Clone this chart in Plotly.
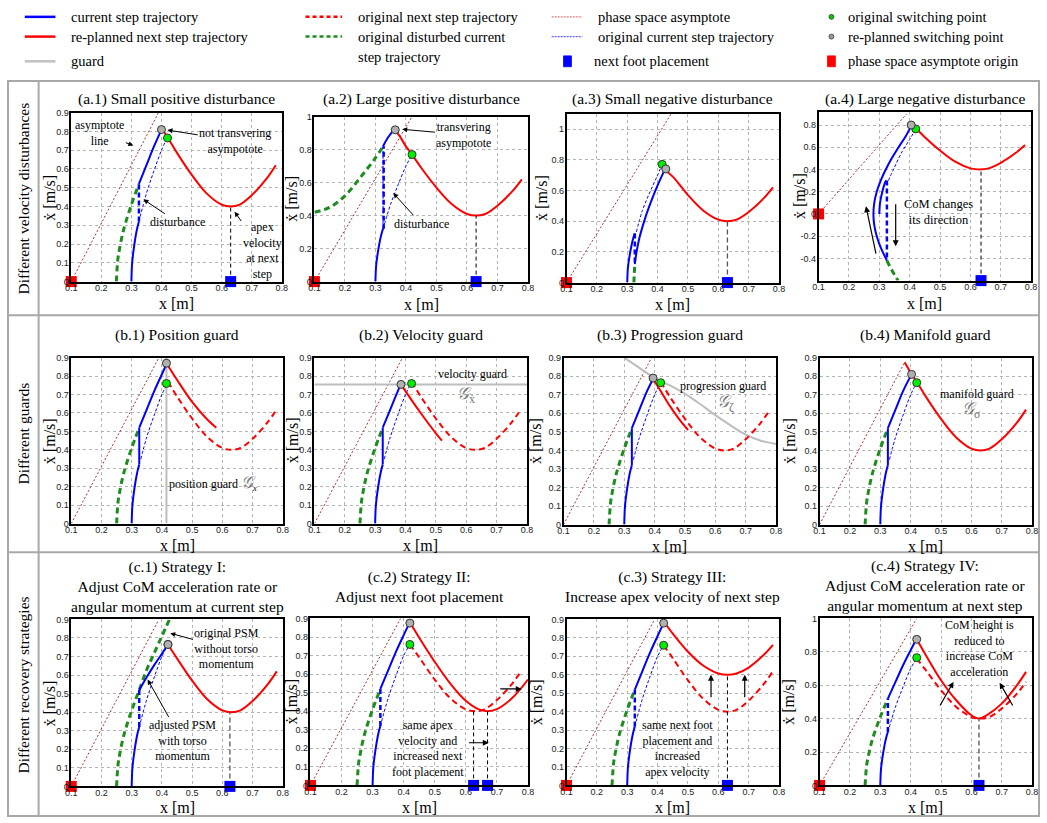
import plotly.graph_objects as go

W, H = 1047, 823

# ---------------- data ----------------
x_tick_vals = [0.1, 0.2, 0.3, 0.4, 0.5, 0.6, 0.7, 0.8]
x_tick_text = ["0.1", "0.2", "0.3", "0.4", "0.5", "0.6", "0.7", "0.8"]
y_tick_09 = [0, 0.1, 0.2, 0.3, 0.4, 0.5, 0.6, 0.7, 0.8, 0.9]
y_text_09 = ["0", "0.1", "0.2", "0.3", "0.4", "0.5", "0.6", "0.7", "0.8", "0.9"]
y_tick_10 = [0, 0.2, 0.4, 0.6, 0.8, 1.0]
y_text_10 = ["0", "0.2", "0.4", "0.6", "0.8", "1"]
y_tick_a4 = [-0.4, -0.2, 0, 0.2, 0.4, 0.6, 0.8]
y_text_a4 = ["-0.4", "-0.2", "0", "0.2", "0.4", "0.6", "0.8"]

panel_keys = ["a1", "a2", "a3", "a4", "b1", "b2", "b3", "b4", "c1", "c2", "c3", "c4"]
panel_titles = [
    "(a.1) Small positive disturbance", "(a.2) Large positive disturbance",
    "(a.3) Small negative disturbance", "(a.4) Large negative disturbance",
    "(b.1) Position guard", "(b.2) Velocity guard",
    "(b.3) Progression guard", "(b.4) Manifold guard",
    "(c.1) Strategy I:<br>Adjust CoM acceleration rate or<br>angular momentum at current step",
    "(c.2) Strategy II:<br>Adjust next foot placement",
    "(c.3) Strategy III:<br>Increase apex velocity of next step",
    "(c.4) Strategy IV:<br>Adjust CoM acceleration rate or<br>angular momentum at next step",
]
row_labels = ["Different velocity disturbances", "Different guards", "Different recovery strategies"]
y_ranges = [[0, 0.9], [0, 1.0], [0, 1.1], [-0.6, 0.92],
            [0, 0.9], [0, 0.9], [0, 0.9], [0, 0.9],
            [0, 0.9], [0, 0.9], [0, 0.9], [0, 1.0]]

# phase-space asymptote (from origin at x=0.1)
asym_x_09 = [0.1, 0.39]
asym_y_09 = [0.0, 0.9]
asym_x_a2 = [0.1, 0.42]
asym_y_a2 = [0.0, 1.0]
asym_x_a3 = [0.1, 0.445]
asym_y_a3 = [0.0, 1.1]
asym_x_b4 = [0.1, 0.38]
asym_y_b4 = [0.0, 0.875]
asym_x_c4 = [0.1, 0.42]
asym_y_c4 = [0.0, 1.0]

# current step before disturbance
pre_x = [0.300, 0.302, 0.305, 0.310, 0.315, 0.320, 0.325]
pre_y = [0.00, 0.09, 0.14, 0.20, 0.25, 0.29, 0.32]
# original (undisturbed) current step continuation
orig_x = [0.325, 0.35, 0.375, 0.40, 0.42]
orig_y = [0.32, 0.47, 0.59, 0.70, 0.77]
# original disturbed current step trajectory
green_x = [0.250, 0.255, 0.260, 0.270, 0.280, 0.300, 0.325]
green_y = [0.00, 0.12, 0.17, 0.25, 0.31, 0.41, 0.52]
# disturbance jump (small positive)
jump_x = [0.325, 0.325]
jump_y = [0.32, 0.52]
# current step after small positive disturbance
post_x = [0.325, 0.35, 0.375, 0.40, 0.42]
post_y = [0.52, 0.62, 0.72, 0.81, 0.88]
post_b1_x = [0.325, 0.35, 0.375, 0.40, 0.415]
post_b1_y = [0.52, 0.62, 0.72, 0.81, 0.865]
post_b2_x = [0.325, 0.35, 0.375, 0.385]
post_b2_y = [0.52, 0.62, 0.72, 0.755]
post_b3_x = [0.325, 0.35, 0.375, 0.395]
post_b3_y = [0.52, 0.62, 0.72, 0.785]
post_b4_x = [0.325, 0.35, 0.375, 0.403]
post_b4_y = [0.52, 0.62, 0.72, 0.81]
# original next step trajectory (foot ~0.63, apex 0.40)
next_x = [0.36, 0.38, 0.40, 0.42, 0.45, 0.50, 0.55, 0.60, 0.63, 0.66, 0.70, 0.75, 0.78]
next_y = [0.93, 0.88, 0.82, 0.77, 0.69, 0.57, 0.47, 0.41, 0.40, 0.41, 0.46, 0.55, 0.62]

# (a.2) large positive disturbance
a2_jump_y = [0.32, 0.82]
a2_post_x = [0.325, 0.34, 0.36]
a2_post_y = [0.82, 0.87, 0.92]
a2_green_x = [0.10, 0.15, 0.20, 0.25, 0.30, 0.325]
a2_green_y = [0.42, 0.45, 0.52, 0.63, 0.75, 0.82]
# (a.3) small negative disturbance
a3_jump_y = [0.32, 0.12]
a3_green_x = [0.322, 0.323, 0.325]
a3_green_y = [0.00, 0.05, 0.12]
a3_post_x = [0.325, 0.33, 0.34, 0.36, 0.38, 0.40, 0.425]
a3_post_y = [0.12, 0.19, 0.29, 0.425, 0.535, 0.633, 0.74]
a3_orig_x = [0.33, 0.35, 0.375, 0.40, 0.415]
a3_orig_y = [0.33, 0.47, 0.59, 0.70, 0.77]
# (a.4) large negative disturbance
a4_pre_x = [0.300, 0.302, 0.305, 0.310, 0.315, 0.320, 0.323]
a4_pre_y = [0.00, 0.09, 0.14, 0.20, 0.25, 0.29, 0.30]
a4_jump_y = [0.30, -0.42]
a4_post_x = [0.325, 0.3045, 0.2916, 0.2834, 0.2806, 0.2834, 0.2916, 0.3045, 0.3213, 0.341, 0.3634, 0.387, 0.405]
a4_post_y = [-0.42, -0.30, -0.20, -0.10, 0.00, 0.10, 0.20, 0.30, 0.40, 0.50, 0.60, 0.70, 0.79]
a4_green_x = [0.325, 0.34, 0.355, 0.362]
a4_green_y = [-0.42, -0.50, -0.57, -0.60]
a4_orig_x = [0.33, 0.35, 0.375, 0.40, 0.42]
a4_orig_y = [0.30, 0.42, 0.56, 0.67, 0.765]

# (b) guards
b_orig_x = [0.33, 0.35, 0.375, 0.40, 0.42]
b_orig_y = [0.35, 0.47, 0.59, 0.70, 0.765]
b1_guard_x = [0.415, 0.415]
b1_guard_y = [0.0, 0.9]
b1_red_x = [0.415, 0.45, 0.50, 0.55, 0.58]
b1_red_y = [0.87, 0.78, 0.66, 0.565, 0.52]
b2_guard_x = [0.1, 0.8]
b2_guard_y = [0.755, 0.755]
b2_red_x = [0.385, 0.42, 0.45, 0.50, 0.52]
b2_red_y = [0.755, 0.67, 0.60, 0.49, 0.45]
b3_guard_x = [0.30, 0.35, 0.40, 0.45, 0.50, 0.55, 0.60, 0.65, 0.70, 0.75, 0.80]
b3_guard_y = [0.90, 0.845, 0.79, 0.75, 0.705, 0.65, 0.59, 0.535, 0.485, 0.452, 0.435]
b3_red_x = [0.395, 0.42, 0.45, 0.48, 0.51]
b3_red_y = [0.785, 0.72, 0.64, 0.57, 0.51]
b4_red_x = [0.38, 0.40, 0.42, 0.45, 0.50, 0.55, 0.60, 0.63, 0.66, 0.70, 0.75, 0.78]
b4_red_y = [0.875, 0.82, 0.77, 0.69, 0.57, 0.47, 0.41, 0.40, 0.41, 0.46, 0.55, 0.62]

# (c) strategies
c1_green_x = [0.250, 0.255, 0.260, 0.270, 0.280, 0.300, 0.325, 0.35, 0.375, 0.40, 0.425]
c1_green_y = [0.00, 0.12, 0.17, 0.25, 0.31, 0.41, 0.52, 0.63, 0.72, 0.81, 0.90]
c1_post_x = [0.325, 0.35, 0.375, 0.40, 0.42]
c1_post_y = [0.52, 0.59, 0.655, 0.715, 0.765]
c_orig_y = [0.32, 0.47, 0.59, 0.70, 0.76]
c2_red_x = [0.42, 0.45, 0.50, 0.55, 0.60, 0.64, 0.67, 0.70, 0.75, 0.80]
c2_red_y = [0.879, 0.796, 0.666, 0.549, 0.456, 0.411, 0.40, 0.411, 0.472, 0.571]
c3_red_x = [0.42, 0.45, 0.50, 0.55, 0.60, 0.63, 0.66, 0.70, 0.75, 0.78]
c3_red_y = [0.89, 0.823, 0.725, 0.65, 0.607, 0.60, 0.607, 0.639, 0.708, 0.762]
c4_red_x = [0.42, 0.45, 0.50, 0.55, 0.60, 0.625, 0.65, 0.70, 0.75, 0.78]
c4_red_y = [0.875, 0.78, 0.63, 0.51, 0.42, 0.40, 0.42, 0.49, 0.60, 0.68]

# switching points
gray_pts = {"a1": (0.40, 0.81), "a2": (0.365, 0.92), "a3": (0.427, 0.74), "a4": (0.405, 0.80),
            "b1": (0.415, 0.87), "b2": (0.385, 0.755), "b3": (0.395, 0.79), "b4": (0.403, 0.81),
            "c1": (0.42, 0.765), "c2": (0.42, 0.875), "c3": (0.42, 0.88), "c4": (0.42, 0.875)}
green_pts = {"a1": (0.42, 0.765), "a2": (0.42, 0.77), "a3": (0.415, 0.77), "a4": (0.42, 0.765),
             "b1": (0.415, 0.76), "b2": (0.42, 0.76), "b3": (0.42, 0.765), "b4": (0.42, 0.765),
             "c1": (0.42, 0.765), "c2": (0.42, 0.76), "c3": (0.42, 0.76), "c4": (0.42, 0.765)}
# next foot placements and apex verticals
foot_x = {"a1": [0.63], "a2": [0.63], "a3": [0.63], "a4": [0.635],
          "c1": [0.625], "c2": [0.625, 0.67], "c3": [0.63], "c4": [0.625]}
apex_top = {"a1": 0.4, "a2": 0.4, "a3": 0.4, "a4": 0.4, "c1": 0.4, "c2": 0.4, "c3": 0.6, "c4": 0.4}

# ---------------- layout (pixel geometry) ----------------
axes_px = {  # left, right, top, bottom
    "a1": (66, 279, 109, 280), "a2": (312, 528, 113, 280), "a3": (567, 782, 110, 281), "a4": (822, 1037, 108, 279),
    "b1": (66, 280, 357, 525), "b2": (312, 527, 357, 525), "b3": (564, 779, 357, 526), "b4": (823, 1038, 357, 526),
    "c1": (66, 280, 622, 791), "c2": (308, 528, 621, 790), "c3": (567, 782, 622, 790), "c4": (823, 1038, 621, 790),
}
title_y = {"a1": 95, "a2": 95, "a3": 95, "a4": 95, "b1": 334, "b2": 334, "b3": 334, "b4": 334,
           "c1": 589, "c2": 589, "c3": 589, "c4": 588}
xlabel_y = {"a1": 302, "a2": 303, "a3": 303, "a4": 302, "b1": 547, "b2": 547, "b3": 548, "b4": 548,
            "c1": 812, "c2": 812, "c3": 812, "c4": 812}
ylabel_x = {"a1": 44, "a2": 288, "a3": 541, "a4": 802, "b1": 44, "b2": 290, "b3": 535, "b4": 792,
            "c1": 44, "c2": 289, "c3": 537, "c4": 792}
apex_gray = ["a3", "c1", "c4"]

SERIF = "Liberation Serif, Times New Roman, DejaVu Serif, serif"
SANS = "Liberation Sans, Arial, DejaVu Sans, sans-serif"

STY = {
    "cur": dict(color="#0000ff", width=2),
    "jump_dash": dict(color="#0000ff", width=2.5, dash="5px,3px"),
    "jump_solid": dict(color="#0000ff", width=2),
    "orig": dict(color="#0000ff", width=1, dash="3px,2px"),
    "green": dict(color="#1e8c1e", width=3, dash="6px,4px"),
    "red": dict(color="#ff0000", width=2),
    "red_dash": dict(color="#ff0000", width=2, dash="6px,4px"),
    "asym": dict(color="#b03030", width=1, dash="2px,2px"),
    "guard": dict(color="#bdbdbd", width=2),
    "apex": dict(color="#000000", width=1, dash="4px,3px"),
    "apex_gray": dict(color="#555555", width=1.3, dash="5px,3px"),
}


def px2x(x):
    return x / W


def px2y(y):
    return 1 - y / H


def refs(p):
    i = panel_keys.index(p) + 1
    return ("x" if i == 1 else f"x{i}"), ("y" if i == 1 else f"y{i}")


fig = go.Figure()


def line(p, xs, ys, sty, shape="spline"):
    xa, ya = refs(p)
    fig.add_trace(go.Scatter(x=xs, y=ys, mode="lines", line=dict(shape=shape, **STY[sty]),
                             xaxis=xa, yaxis=ya, showlegend=False, hoverinfo="skip"))


def marker(p, xs, ys, symbol, color, size, edge=None):
    xa, ya = refs(p)
    fig.add_trace(go.Scatter(x=xs, y=ys, mode="markers", cliponaxis=False,
                             marker=dict(symbol=symbol, color=color, size=size,
                                         line=dict(color=edge or color, width=1 if edge else 0)),
                             xaxis=xa, yaxis=ya, showlegend=False, hoverinfo="skip"))


def note(p, text, x, y, ax=None, ay=None, size=12, color="black"):
    xa, ya = refs(p)
    d = dict(text=text, x=x, y=y, xref=xa, yref=ya, font=dict(family=SERIF, size=size, color=color),
             xanchor="center", yanchor="middle")
    if ax is None:
        d.update(showarrow=False)
    else:
        d.update(ax=ax, ay=ay, axref=xa, ayref=ya, showarrow=True, arrowhead=2, arrowsize=1,
                 arrowwidth=1, arrowcolor="black", standoff=3)
    fig.add_annotation(**d)


def arrow(p, x0, y0, x1, y1):
    xa, ya = refs(p)
    fig.add_annotation(text="", x=x1, y=y1, ax=x0, ay=y0, xref=xa, yref=ya, axref=xa, ayref=ya,
                       showarrow=True, arrowhead=2, arrowsize=1, arrowwidth=1.2, arrowcolor="black")


def finish(p, ybottom=0.0, red_origin=True):
    gx, gy = green_pts[p]
    marker(p, [gx], [gy], "circle", "#00ee00", 8, "#333333")
    rx, ry = gray_pts[p]
    marker(p, [rx], [ry], "circle", "#b0b0b0", 8, "#333333")
    if p in foot_x:
        for fx in foot_x[p]:
            line(p, [fx, fx], [ybottom, apex_top[p]], "apex_gray" if p in apex_gray else "apex", "linear")
        marker(p, foot_x[p], [ybottom] * len(foot_x[p]), "square", "#0000ff", 11)
    if red_origin:
        marker(p, [0.1], [0.0], "square", "#ff0000", 11)


# ---------------- row a ----------------
line("a1", asym_x_09, asym_y_09, "asym", "linear")
line("a1", green_x, green_y, "green")
line("a1", orig_x, orig_y, "orig")
line("a1", pre_x, pre_y, "cur")
line("a1", jump_x, jump_y, "jump_dash", "linear")
line("a1", post_x[:4], post_y[:4], "cur")
line("a1", next_x[2:], next_y[2:], "red")
finish("a1")
note("a1", "asymptote<br>line", 0.316, 0.72, ax=0.195, ay=0.79)
note("a1", "not transvering<br>asympotote", 0.41, 0.81, ax=0.645, ay=0.75)
note("a1", "disturbance", 0.332, 0.447, ax=0.453, ay=0.316)
note("a1", "apex<br>velocity<br>at next<br>step", 0.637, 0.385, ax=0.735, ay=0.167)

line("a2", asym_x_a2, asym_y_a2, "asym", "linear")
line("a2", a2_green_x, a2_green_y, "green")
line("a2", orig_x, orig_y, "orig")
line("a2", pre_x, pre_y, "cur")
line("a2", jump_x, a2_jump_y, "orig", "linear")
line("a2", [0.327, 0.327], a2_jump_y, "jump_dash", "linear")
line("a2", a2_post_x, a2_post_y, "cur")
line("a2", next_x, next_y, "red")
finish("a2")
note("a2", "transvering<br>asympotote", 0.378, 0.925, ax=0.59, ay=0.89)
note("a2", "disturbance", 0.352, 0.55, ax=0.45, ay=0.35)

line("a3", asym_x_a3, asym_y_a3, "asym", "linear")
line("a3", a3_green_x, a3_green_y, "green")
line("a3", a3_orig_x, a3_orig_y, "orig")
line("a3", pre_x, pre_y, "cur")
line("a3", jump_x, a3_jump_y, "jump_dash", "linear")
line("a3", a3_post_x, a3_post_y, "cur")
line("a3", next_x[3:], [0.74] + next_y[4:], "red")
finish("a3")

line("a4", asym_x_09, asym_y_09, "asym", "linear")
line("a4", a4_green_x, a4_green_y, "green")
line("a4", a4_orig_x, a4_orig_y, "orig")
line("a4", a4_pre_x, a4_pre_y, "cur")
line("a4", [0.325, 0.325], a4_jump_y, "jump_dash", "linear")
line("a4", a4_post_x, a4_post_y, "cur")
line("a4", next_x[2:], [0.80] + next_y[3:], "red")
finish("a4", ybottom=-0.6)
note("a4", "CoM changes<br>its direction", 0.495, 0.015, size=12.5)
arrow("a4", 0.354, 0.10, 0.354, -0.29)
arrow("a4", 0.29, -0.37, 0.256, 0.07)

# ---------------- row b ----------------
for p, px_, py_ in [("b1", post_b1_x, post_b1_y), ("b2", post_b2_x, post_b2_y),
                    ("b3", post_b3_x, post_b3_y), ("b4", post_b4_x, post_b4_y)]:
    line(p, asym_x_b4 if p == "b4" else asym_x_09, asym_y_b4 if p == "b4" else asym_y_09, "asym", "linear")
    if p == "b1":
        line(p, b1_guard_x, b1_guard_y, "guard", "linear")
    if p == "b2":
        line(p, b2_guard_x, b2_guard_y, "guard", "linear")
    if p == "b3":
        line(p, b3_guard_x, b3_guard_y, "guard")
    line(p, green_x, green_y, "green")
    line(p, b_orig_x, b_orig_y, "orig")
    line(p, pre_x, pre_y, "cur")
    line(p, jump_x, jump_y, "jump_solid", "linear")
    line(p, px_, py_, "cur")
    if p != "b4":
        line(p, next_x[3:], next_y[3:], "red_dash")

line("b1", b1_red_x, b1_red_y, "red")
line("b2", b2_red_x, b2_red_y, "red")
line("b3", b3_red_x, b3_red_y, "red")
line("b4", b4_red_x, b4_red_y, "red")
for p in ["b1", "b2", "b3", "b4"]:
    finish(p, red_origin=False)
note("b1", "position guard <span style='font-size:17px;color:#777'><i>𝒢</i></span><sub><i>x</i></sub>", 0.57, 0.22)
note("b2", "velocity guard", 0.62, 0.81)
note("b2", "<i>𝒢</i><sub>ẋ</sub>", 0.6, 0.70, size=17, color="#777")
note("b3", "progression guard", 0.624, 0.746)
note("b3", "<i>𝒢</i><sub>ζ</sub>", 0.635, 0.653, size=17, color="#777")
note("b4", "manifold guard", 0.617, 0.703)
note("b4", "<i>𝒢</i><sub>σ</sub>", 0.60, 0.618, size=17, color="#777")

# ---------------- row c ----------------
line("c1", asym_x_09, asym_y_09, "asym", "linear")
line("c1", c1_green_x, c1_green_y, "green")
line("c1", orig_x, [0.32, 0.47, 0.59, 0.70, 0.765], "orig")
line("c1", pre_x, pre_y, "cur")
line("c1", jump_x, jump_y, "jump_dash", "linear")
line("c1", c1_post_x, c1_post_y, "cur")
line("c1", next_x[3:], [0.765] + next_y[4:], "red")
finish("c1")
note("c1", "original PSM<br>without torso<br>momentum", 0.418, 0.83, ax=0.615, ay=0.742)
note("c1", "adjusted PSM<br>with torso<br>momentum", 0.348, 0.59, ax=0.467, ay=0.245)

for p in ["c2", "c3", "c4"]:
    line(p, asym_x_c4 if p == "c4" else asym_x_09, asym_y_c4 if p == "c4" else asym_y_09, "asym", "linear")
    line(p, green_x, green_y, "green")
    line(p, orig_x, c_orig_y, "orig")
    line(p, pre_x, pre_y, "cur")
    line(p, jump_x, jump_y, "jump_dash", "linear")
    line(p, post_x, post_y, "cur")
    line(p, next_x[3:], [0.76] + next_y[4:], "red_dash")
line("c2", c2_red_x, c2_red_y, "red")
line("c3", c3_red_x, c3_red_y, "red")
line("c4", c4_red_x, c4_red_y, "red")
for p in ["c2", "c3", "c4"]:
    finish(p)
note("c2", "same apex<br>velocity and<br>increased next<br>foot placement", 0.478, 0.2)
arrow("c2", 0.605, 0.23, 0.674, 0.23)
arrow("c2", 0.706, 0.52, 0.78, 0.52)
note("c3", "same next foot<br>placement and<br>increased<br>apex velocity", 0.466, 0.2)
arrow("c3", 0.576, 0.47, 0.576, 0.60)
arrow("c3", 0.687, 0.47, 0.687, 0.60)
note("c4", "CoM height is<br>reduced to<br>increase CoM<br>acceleration", 0.627, 0.818)
arrow("c4", 0.494, 0.47, 0.541, 0.62)
arrow("c4", 0.739, 0.47, 0.693, 0.615)

# ---------------- axes ----------------
layout = {}
for i, p in enumerate(panel_keys):
    l, r, t, b = axes_px[p]
    n = "" if i == 0 else str(i + 1)
    yr = y_ranges[i]
    if p == "a4":
        yt, ytt = y_tick_a4, y_text_a4
    elif yr[1] >= 0.95:
        yt, ytt = y_tick_10, y_text_10
    else:
        yt, ytt = y_tick_09, y_text_09
    common = dict(showline=True, mirror=True, linecolor="black", linewidth=1.5,
                  showgrid=True, gridcolor="#b4b4b4", griddash="dot", gridwidth=1,
                  zeroline=False, ticks="", tickfont=dict(family=SANS, size=9, color="#222"),
                  fixedrange=True)
    layout["xaxis" + n] = dict(domain=[px2x(l), px2x(r)], anchor="y" + n, range=[0.1, 0.8],
                               tickvals=x_tick_vals, ticktext=x_tick_text, ticklabelstandoff=-3, **common)
    layout["yaxis" + n] = dict(domain=[px2y(b), px2y(t)], anchor="x" + n, range=yr,
                               tickvals=yt, ticktext=ytt, ticklabelstandoff=-1, **common)
    fig.add_annotation(text=panel_titles[i], x=px2x((l + r) / 2), y=px2y(title_y[p]), xref="paper",
                       yref="paper", showarrow=False, font=dict(family=SERIF, size=15.5, color="black"),
                       xanchor="center", yanchor="middle")
    fig.add_annotation(text="x [m]", x=px2x((l + r) / 2), y=px2y(xlabel_y[p]), xref="paper", yref="paper",
                       showarrow=False, font=dict(family=SERIF, size=16, color="black"),
                       xanchor="center", yanchor="middle")
    fig.add_annotation(text="ẋ [m/s]", x=px2x(ylabel_x[p]), y=px2y((t + b) / 2), xref="paper", yref="paper",
                       showarrow=False, textangle=-90, font=dict(family=SERIF, size=16, color="black"),
                       xanchor="center", yanchor="middle")

# ---------------- frame and row labels ----------------
FRAME = dict(color="#a8a8a8", width=2)
fig.add_shape(type="rect", xref="paper", yref="paper", x0=px2x(2), x1=px2x(1045), y0=px2y(821), y1=px2y(77),
              line=FRAME, layer="below")
fig.add_shape(type="line", xref="paper", yref="paper", x0=px2x(33), x1=px2x(33), y0=px2y(821), y1=px2y(77), line=FRAME)
for yy in [314, 554]:
    fig.add_shape(type="line", xref="paper", yref="paper", x0=px2x(2), x1=px2x(1045), y0=px2y(yy), y1=px2y(yy), line=FRAME)
for txt, yc in zip(row_labels, [196, 434, 688]):
    fig.add_annotation(text=txt, x=px2x(18), y=px2y(yc), xref="paper", yref="paper", showarrow=False,
                       textangle=-90, xanchor="center", yanchor="middle",
                       font=dict(family=SERIF, size=15.5, color="black"))

# ---------------- legend (drawn manually) ----------------
legend_lines = [
    (19, 50, 12, dict(color="#0000ff", width=2.5), "current step trajectory"),
    (19, 50, 32, dict(color="#ff0000", width=2.5), "re-planned next step trajectory"),
    (19, 50, 57, dict(color="#c0c0c0", width=2.5), "guard"),
    (303, 340, 12, dict(color="#ff0000", width=2.5, dash="4px,3px"), "original next step trajectory"),
    (303, 340, 32, dict(color="#1e8c1e", width=2.5, dash="4px,3px"), "original disturbed current"),
    (552, 583, 12, dict(color="#d08080", width=1.2, dash="2px,1px"), "phase space asymptote"),
    (552, 583, 32, dict(color="#6060ff", width=1.2, dash="2px,1px"), "original current step trajectory"),
]
LEG_FONT = dict(family=SERIF, size=14.5, color="black")
for x0, x1, yy, ln, txt in legend_lines:
    fig.add_shape(type="line", xref="paper", yref="paper", x0=px2x(x0), x1=px2x(x1), y0=px2y(yy), y1=px2y(yy), line=ln)
    fig.add_annotation(text=txt, x=px2x(x1 + 14), y=px2y(yy), xref="paper", yref="paper", showarrow=False,
                       xanchor="left", yanchor="middle", font=LEG_FONT)
fig.add_annotation(text="step trajectory", x=px2x(354), y=px2y(53), xref="paper", yref="paper", showarrow=False,
                   xanchor="left", yanchor="middle", font=LEG_FONT)
legend_marks = [
    ("circle", 835, 12, 5, 5, "#00cc00", "original switching point"),
    ("circle", 835, 32, 5, 5, "#999999", "re-planned switching point"),
    ("rect", 568, 57, 8, 11, "#0000ff", "next foot placement"),
    ("rect", 835, 57, 8, 11, "#ff0000", "phase space asymptote origin"),
]
for kind, cx, cy, w, h, col, txt in legend_marks:
    fig.add_shape(type=kind, xref="paper", yref="paper", x0=px2x(cx - w / 2), x1=px2x(cx + w / 2),
                  y0=px2y(cy + h / 2), y1=px2y(cy - h / 2), fillcolor=col,
                  line=dict(color="#333" if kind == "circle" else col, width=0.8))
    fig.add_annotation(text=txt, x=px2x(cx + (25 if kind == "rect" and cx < 700 else 15)), y=px2y(cy),
                       xref="paper", yref="paper", showarrow=False, xanchor="left", yanchor="middle", font=LEG_FONT)

fig.update_layout(width=W, height=H, autosize=False, margin=dict(l=0, r=0, t=0, b=0),
                  plot_bgcolor="white", paper_bgcolor="white", showlegend=False, **layout)

fig.write_html("out.html", config={"displayModeBar": False},
               post_script="document.body.style.margin='0';document.body.style.overflow='hidden';")
